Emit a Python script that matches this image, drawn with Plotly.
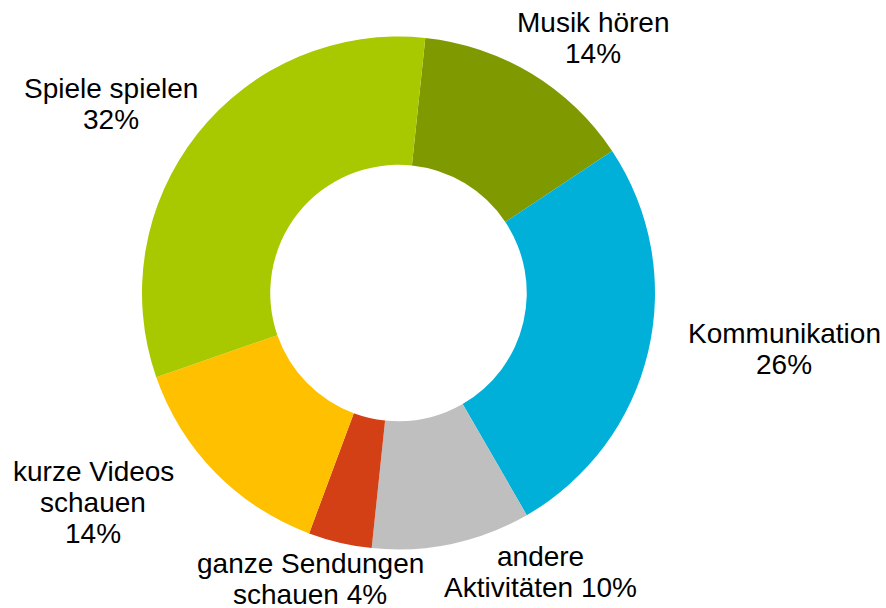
import plotly.graph_objects as go

labels = ["Musik hören", "Kommunikation", "andere Aktivitäten", "ganze Sendungen schauen",
          "kurze Videos schauen", "Spiele spielen"]
values = [14, 26, 10, 4, 14, 32]
colors = ["#7F9A00", "#00B0D8", "#BFBFBF", "#D44015", "#FFC000", "#A8C800"]

# label text lines (each line drawn as its own annotation for exact line spacing)
label_lines = [
    ["Musik hören", "14%"],
    ["Kommunikation", "26%"],
    ["andere", "Aktivitäten 10%"],
    ["ganze Sendungen", "schauen 4%"],
    ["kurze Videos", "schauen", "14%"],
    ["Spiele spielen", "32%"],
]
# label anchor: centre x and first baseline (page pixels)
label_pos = [(593, 32), (784, 343), (540, 566), (310, 573), (93, 481), (111, 98)]
LINE_SPACING = 31

W, H = 886, 608
cx, cy, r = 398.5, 293, 256.5
FS = 28

fig = go.Figure(go.Pie(
    labels=labels, values=values, sort=False, direction="clockwise",
    rotation=6, hole=0.5,
    marker=dict(colors=colors, line=dict(width=0)),
    textinfo="none", hoverinfo="label+percent",
    domain=dict(x=[(cx - r) / W, (cx + r) / W], y=[1 - (cy + r) / H, 1 - (cy - r) / H]),
    showlegend=False,
))

annotations = []
for lines, (px, py) in zip(label_lines, label_pos):
    for i, line in enumerate(lines):
        base = py + i * LINE_SPACING
        mid = base - 0.3465 * FS
        annotations.append(dict(
            text=line, x=px / W, y=1 - mid / H, xref="paper", yref="paper",
            xanchor="center", yanchor="middle", showarrow=False,
            font=dict(family="Arial, Liberation Sans, sans-serif", size=FS, color="#000000"),
        ))

fig.update_layout(
    width=W, height=H, margin=dict(l=0, r=0, t=0, b=0),
    paper_bgcolor="white", plot_bgcolor="white",
    annotations=annotations,
)

fig.write_html(
    "out.html",
    config={"displayModeBar": False},
    post_script="document.body.style.margin='0px';document.body.style.overflow='hidden';",
)
